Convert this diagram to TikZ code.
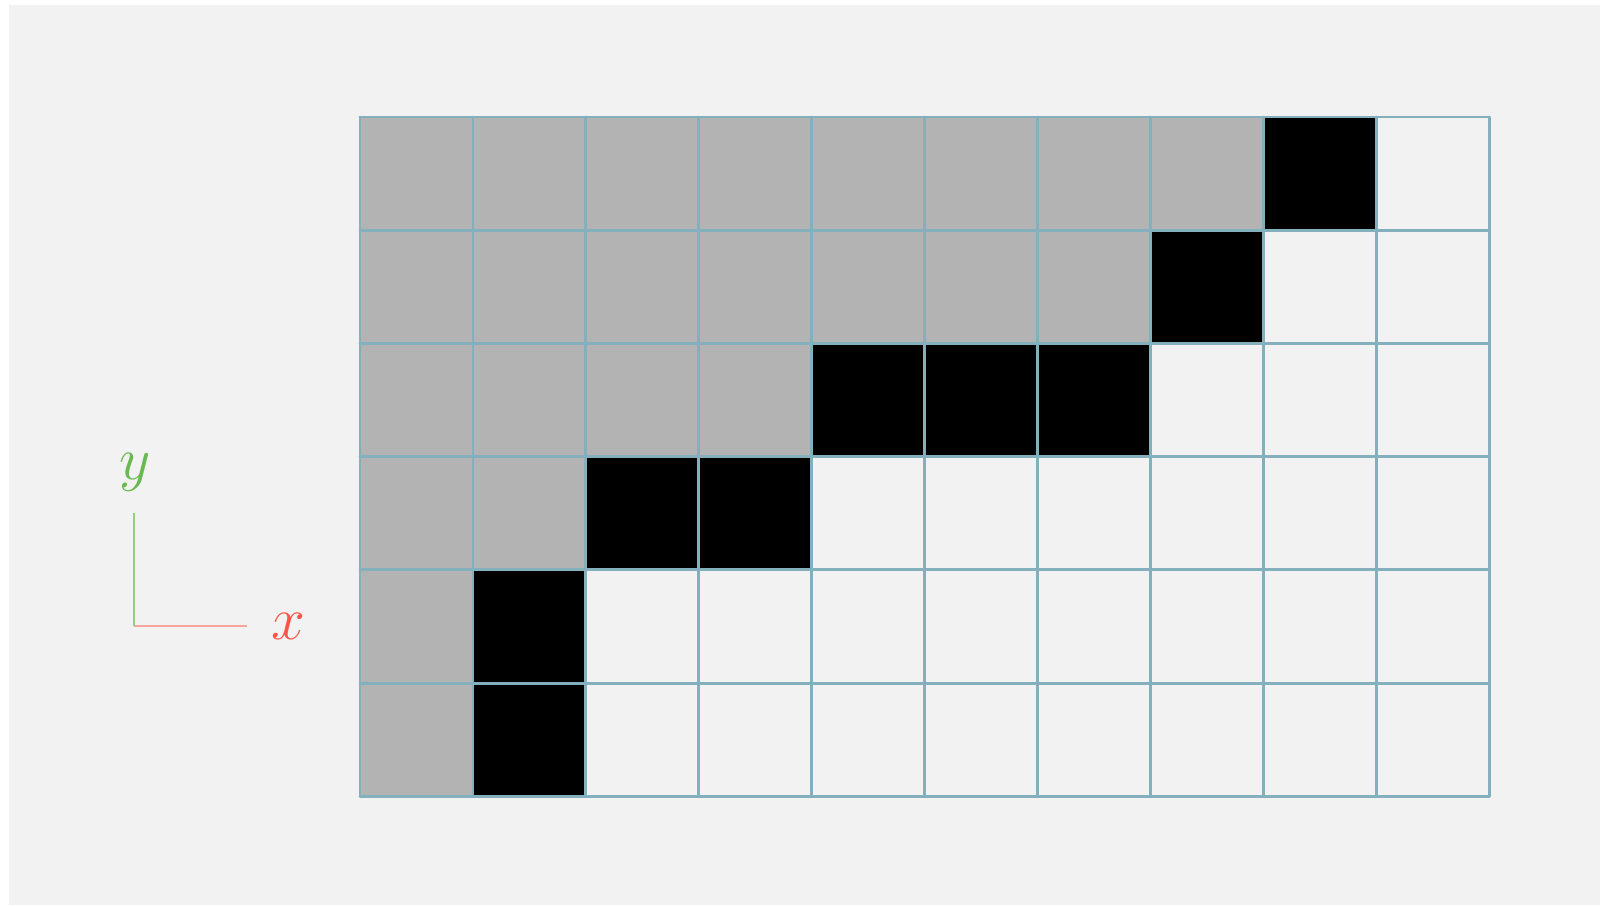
\documentclass[tikz,border=0pt]{standalone}
\begin{document}
\definecolor{bgc}{RGB}{242,242,242}
\definecolor{cellgray}{RGB}{179,179,179}
\definecolor{gridc}{RGB}{132,176,189}
\definecolor{axg}{RGB}{150,205,130}
\definecolor{axr}{RGB}{250,165,155}
\definecolor{labg}{RGB}{105,185,80}
\definecolor{labr}{RGB}{250,85,75}
\begin{tikzpicture}[x=0.01cm,y=-0.01cm,
  gridline/.style={draw=gridc,line width=0.8pt,line cap=round,line join=round},
  grayfill/.style={fill=cellgray},
  blackfill/.style={fill=black},
  axisline/.style={line width=0.62pt},
  axlabel/.style={inner sep=0pt,font=\fontsize{17}{20}\selectfont}]
\useasboundingbox (0,0) rectangle (1600,905);
\fill[bgc] (9,5) rectangle (1600,905);
\begin{scope}[shift={(360,117)},x=1.1285cm,y=-1.1315cm]
  \fill[grayfill] (0,0) rectangle (8,1);
  \fill[blackfill] (8,0) rectangle (9,1);
  \fill[grayfill] (0,1) rectangle (7,2);
  \fill[blackfill] (7,1) rectangle (8,2);
  \fill[grayfill] (0,2) rectangle (4,3);
  \fill[blackfill] (4,2) rectangle (7,3);
  \fill[grayfill] (0,3) rectangle (2,4);
  \fill[blackfill] (2,3) rectangle (4,4);
  \fill[grayfill] (0,4) rectangle (1,6);
  \fill[blackfill] (1,4) rectangle (2,6);
  \foreach \i in {0,...,10} {\draw[gridline] (\i,0) -- (\i,6);}
  \foreach \j in {0,...,6} {\draw[gridline] (0,\j) -- (10,\j);}
\end{scope}
\coordinate (o) at (134,626);
\coordinate (xend) at (247,626);
\coordinate (yend) at (134,513);
\draw[axisline,draw=axr] (o) -- (xend);
\draw[axisline,draw=axg] (o) -- (yend);
\node[axlabel,text=labr] (xl) at (288,626) {$x$};
\node[axlabel,text=labg] (yl) at (135,472) {$y$};
\end{tikzpicture}
\end{document}
